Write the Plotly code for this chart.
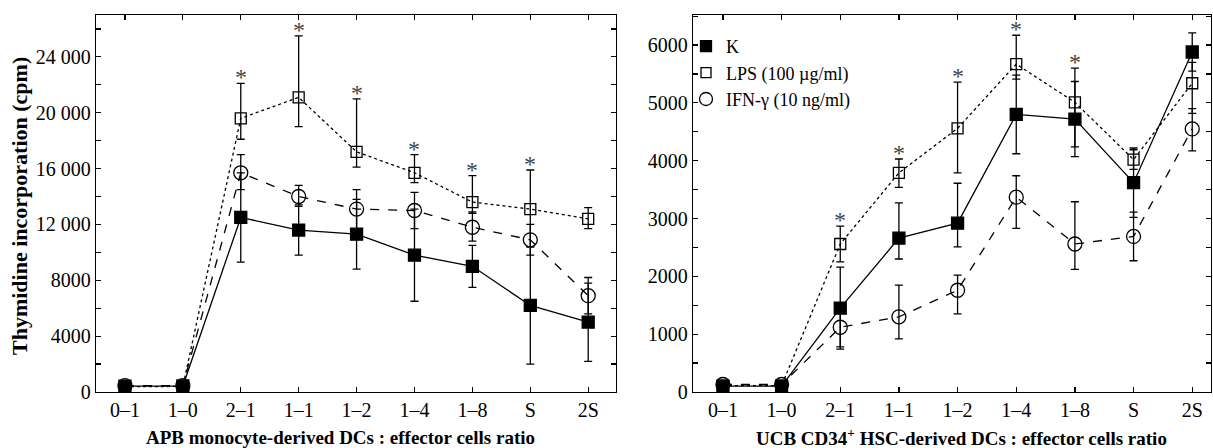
import plotly.graph_objects as go

# ---------------- data ----------------
cats = ["0–1", "1–0", "2–1", "1–1", "1–2", "1–4", "1–8", "S", "2S"]

# Left panel: APB monocyte-derived DCs
apb_k = [420, 430, 12500, 11600, 11300, 9800, 9000, 6200, 5000]
apb_k_hi = [560, 570, 15700, 13400, 13800, 13100, 10500, 10400, 7800]
apb_k_lo = [280, 290, 9300, 9800, 8800, 6500, 7500, 2000, 2200]

apb_lps = [380, 400, 19600, 21100, 17200, 15700, 13600, 13100, 12400]
apb_lps_hi = [480, 500, 22100, 25500, 21000, 17000, 15500, 15900, 13200]
apb_lps_lo = [280, 300, 18100, 19000, 16100, 15000, 12800, 10400, 11700]

apb_ifn = [450, 450, 15700, 14000, 13100, 13000, 11800, 10900, 6900]
apb_ifn_hi = [550, 550, 17000, 14800, 14500, 14300, 12900, 12000, 8200]
apb_ifn_lo = [350, 350, 14500, 13300, 11700, 11700, 10800, 9800, 5600]

# Right panel: UCB CD34+ HSC-derived DCs
ucb_k = [100, 100, 1450, 2660, 2920, 4800, 4720, 3620, 5880]
ucb_k_hi = [150, 150, 2160, 3270, 3610, 5480, 5370, 4220, 6210]
ucb_k_lo = [50, 50, 740, 2300, 2510, 4120, 4070, 3020, 5550]

ucb_lps = [110, 110, 2560, 3790, 4560, 5670, 5010, 4020, 5340]
ucb_lps_hi = [160, 160, 2870, 4030, 5360, 6170, 5600, 4190, 5700]
ucb_lps_lo = [60, 60, 2250, 3540, 3790, 5410, 4240, 3850, 4820]

ucb_ifn = [130, 130, 1120, 1300, 1760, 3370, 2560, 2690, 4550]
ucb_ifn_hi = [180, 180, 1450, 1850, 2020, 3740, 3290, 3110, 4900]
ucb_ifn_lo = [80, 80, 780, 920, 1350, 2830, 2120, 2270, 4170]

# significance markers (category indices with *)
apb_sig = [2, 3, 4, 5, 6, 7]
ucb_sig = [2, 3, 4, 5, 6]

left_yticks = list(range(0, 27000, 2000))
left_ylabels = ["0", "", "4000", "", "8000", "", "12 000", "", "16 000", "",
                "20 000", "", "24 000", ""]
right_yticks = list(range(0, 6501, 500))
right_ylabels = ["0", "", "1000", "", "2000", "", "3000", "", "4000", "", "5000", "", "6000", ""]

series_names = ["K", "LPS (100 µg/ml)", "IFN-γ (10 ng/ml)"]

FONT = "Liberation Serif"

styles = [
    dict(symbol="square", size=12, dash="solid"),
    dict(symbol="square-open", size=11, dash="dot"),
    dict(symbol="circle-open", size=14, dash="dash"),
]

fig = go.Figure()


def add_series(xa, ya, mean, hi, lo, st):
    fig.add_trace(go.Scatter(
        x=cats, y=mean, xaxis=xa, yaxis=ya, mode="lines+markers",
        line=dict(color="black", width=1.3, dash=st["dash"]),
        marker=dict(symbol=st["symbol"], size=st["size"], color="black",
                    line=dict(color="black", width=1.3)),
        error_y=dict(type="data", symmetric=False,
                     array=[h - m for h, m in zip(hi, mean)],
                     arrayminus=[m - l for m, l in zip(mean, lo)],
                     color="black", thickness=1.3, width=4),
        showlegend=False, hoverinfo="skip",
    ))


left = [(apb_k, apb_k_hi, apb_k_lo), (apb_lps, apb_lps_hi, apb_lps_lo), (apb_ifn, apb_ifn_hi, apb_ifn_lo)]
right = [(ucb_k, ucb_k_hi, ucb_k_lo), (ucb_lps, ucb_lps_hi, ucb_lps_lo), (ucb_ifn, ucb_ifn_hi, ucb_ifn_lo)]
for (m, h, l), st in zip(left, styles):
    add_series("x", "y", m, h, l, st)
for (m, h, l), st in zip(right, styles):
    add_series("x2", "y2", m, h, l, st)

# legend entries (markers only), placed on right panel
for name, st in zip(series_names, styles):
    fig.add_trace(go.Scatter(
        x=[None], y=[None], xaxis="x2", yaxis="y2", mode="markers", name=name,
        marker=dict(symbol=st["symbol"], size=st["size"] - 1, color="black",
                    line=dict(color="black", width=1.3)),
        showlegend=True,
    ))

annotations = []
for i in apb_sig:
    annotations.append(dict(x=cats[i], y=apb_lps_hi[i], xref="x", yref="y", text="*",
                            showarrow=False, yanchor="bottom", yshift=-9,
                            font=dict(family=FONT, size=24, color="#444")))
for i in ucb_sig:
    annotations.append(dict(x=cats[i], y=ucb_lps_hi[i], xref="x2", yref="y2", text="*",
                            showarrow=False, yanchor="bottom", yshift=-9,
                            font=dict(family=FONT, size=24, color="#444")))

annotations += [
    dict(text="<b>Thymidine incorporation (cpm)</b>", x=19 / 1213, y=1 - 206 / 448,
         xref="paper", yref="paper", textangle=-90, showarrow=False,
         xanchor="center", yanchor="middle", font=dict(family=FONT, size=22, color="black")),
    dict(text="<b>APB monocyte-derived DCs : effector cells ratio</b>", x=340 / 1213, y=1 - 437 / 448,
         xref="paper", yref="paper", showarrow=False, xanchor="center", yanchor="middle",
         font=dict(family=FONT, size=19, color="black")),
    dict(text="<b>UCB CD34<sup>+</sup> HSC-derived DCs : effector cells ratio</b>", x=961 / 1213,
         y=1 - 437 / 448, xref="paper", yref="paper", showarrow=False, xanchor="center",
         yanchor="middle", font=dict(family=FONT, size=19, color="black")),
]

axis_common = dict(showline=True, linecolor="black", linewidth=1.3, mirror="ticks",
                   ticks="inside", ticklen=5, tickwidth=1.2, tickcolor="black",
                   showgrid=False, zeroline=False, automargin=False,
                   tickfont=dict(family=FONT, size=20, color="black"))

ydom = [(448 - 392) / 448, (448 - 15) / 448]

fig.update_layout(
    width=1213, height=448,
    margin=dict(l=0, r=0, t=0, b=0, pad=0, autoexpand=False),
    paper_bgcolor="white", plot_bgcolor="white",
    font=dict(family=FONT, color="black"),
    hovermode=False,
    xaxis=dict(domain=[96 / 1213, 616 / 1213], type="category", categoryorder="array",
               categoryarray=cats, range=[-0.5, 8.48], anchor="y", **axis_common),
    yaxis=dict(domain=ydom, range=[0, 27000], tickvals=left_yticks, ticktext=left_ylabels,
               anchor="x", **axis_common),
    xaxis2=dict(domain=[693 / 1213, 1211 / 1213], type="category", categoryorder="array",
                categoryarray=cats, range=[-0.51, 8.32], anchor="y2", **axis_common),
    yaxis2=dict(domain=ydom, range=[0, 6520], tickvals=right_yticks, ticktext=right_ylabels,
                anchor="x2", **axis_common),
    legend=dict(x=686 / 1213, y=1 - 28 / 448, xanchor="left", yanchor="top",
                bgcolor="rgba(0,0,0,0)", font=dict(family=FONT, size=18, color="black"),
                itemwidth=30, tracegroupgap=0),
    annotations=annotations,
)

post = """
var de=document.documentElement, b=document.body;
de.style.margin='0'; de.style.padding='0'; de.style.overflow='hidden';
b.style.margin='0'; b.style.padding='0'; b.style.overflow='hidden';
"""

fig.write_html("out.html", config={"displayModeBar": False, "staticPlot": True},
               post_script=post)
